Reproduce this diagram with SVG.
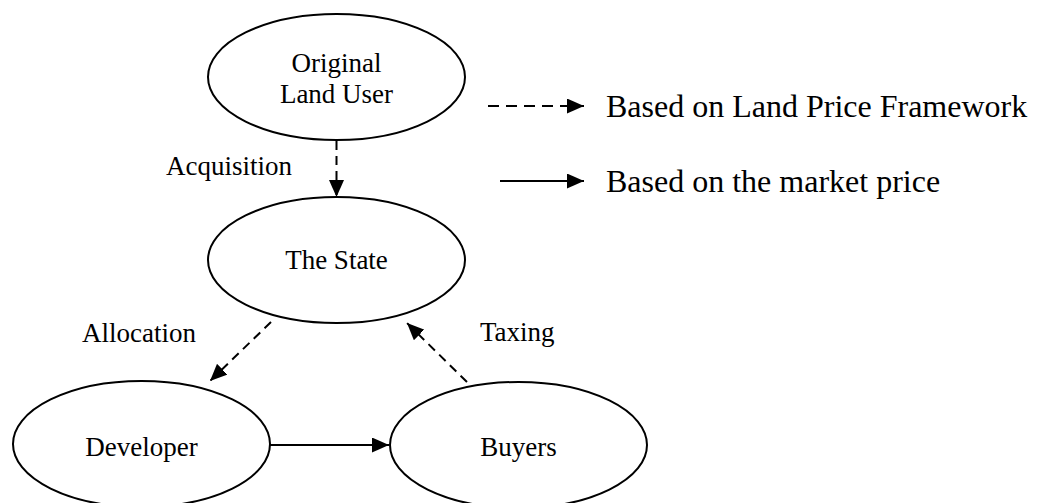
<svg xmlns="http://www.w3.org/2000/svg" width="1046" height="503" viewBox="0 0 1046 503">
  <style>
    .node ellipse { fill: #ffffff; stroke: #000000; stroke-width: 2; }
    .label { font-family: "Liberation Serif", "Times New Roman", serif; font-size: 27px; fill: #000000; }
    .legend-text { font-family: "Liberation Serif", "Times New Roman", serif; font-size: 32px; fill: #000000; }
    .edge { fill: none; stroke: #000000; stroke-width: 2; }
    .dashed { stroke-dasharray: 9 6; }
    .legend-dashed { stroke-dasharray: 11 7; }
  </style>
  <defs>
    <marker id="arrow" viewBox="0 0 17 15" refX="17" refY="7.5" markerWidth="17" markerHeight="15" markerUnits="userSpaceOnUse" orient="auto">
      <path d="M0,0 L17,7.5 L0,15 z" fill="#000000"/>
    </marker>
  </defs>

  <rect width="1046" height="503" fill="#ffffff"/>

  <!-- nodes -->
  <g id="original-land-user" class="node">
    <ellipse cx="336.5" cy="77" rx="128.5" ry="63"/>
    <text class="label" x="336.5" y="72" text-anchor="middle">Original</text>
    <text class="label" x="336.5" y="103" text-anchor="middle">Land User</text>
  </g>
  <g id="the-state" class="node">
    <ellipse cx="336.5" cy="260" rx="128.5" ry="63"/>
    <text class="label" x="336.5" y="269" text-anchor="middle">The State</text>
  </g>
  <g id="developer" class="node">
    <ellipse cx="141.5" cy="444" rx="128.5" ry="63"/>
    <text class="label" x="141.5" y="456" text-anchor="middle">Developer</text>
  </g>
  <g id="buyers" class="node">
    <ellipse cx="518.5" cy="445" rx="128.5" ry="63"/>
    <text class="label" x="518.5" y="456" text-anchor="middle">Buyers</text>
  </g>

  <!-- connectors -->
  <g id="connectors">
    <line class="edge dashed" x1="336.5" y1="141" x2="336.5" y2="197" marker-end="url(#arrow)"/>
    <line class="edge dashed" x1="271" y1="322" x2="210" y2="381" marker-end="url(#arrow)"/>
    <line class="edge dashed" x1="467" y1="382" x2="407" y2="323" marker-end="url(#arrow)"/>
    <line class="edge" x1="270" y1="445" x2="389" y2="445" marker-end="url(#arrow)"/>
  </g>

  <!-- connector labels -->
  <g id="edge-labels">
    <text class="label" x="166" y="175">Acquisition</text>
    <text class="label" x="82" y="342">Allocation</text>
    <text class="label" x="480" y="341">Taxing</text>
  </g>

  <!-- legend -->
  <g id="legend">
    <line class="edge legend-dashed" x1="488" y1="106" x2="584" y2="106" marker-end="url(#arrow)"/>
    <text class="legend-text" x="606" y="117">Based on Land Price Framework</text>
    <line class="edge" x1="500" y1="181" x2="584" y2="181" marker-end="url(#arrow)"/>
    <text class="legend-text" x="606" y="192">Based on the market price</text>
  </g>
</svg>
